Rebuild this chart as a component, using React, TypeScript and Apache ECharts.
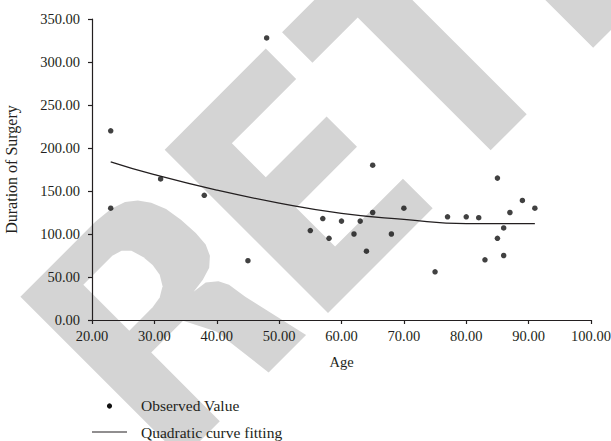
import React, { useEffect, useRef } from "react";
import * as echarts from "echarts";

// Observed values (Age, Duration of Surgery)
const ages = [23, 23, 31, 38, 45, 48, 55, 57, 58, 60, 62, 63, 64, 65, 65, 68, 70, 75, 77, 80, 82, 83, 85, 85, 86, 86, 87, 89, 91];
const durations = [220, 130, 164, 145, 69, 328, 104, 118, 95, 115, 100, 115, 80, 180, 125, 100, 130, 56, 120, 120, 119, 70, 165, 95, 107, 75, 125, 139, 130];

// Quadratic fitted curve
const fitAges = [23, 30, 40, 50, 60, 70, 80, 91];
const fitDurations = [184, 169, 151, 136, 124, 117, 112, 112];

const xMin = 20;
const xMax = 100;
const xStep = 10;
const yMin = 0;
const yMax = 350;
const yStep = 50;

const seriesNames = ["Observed Value", "Quadratic curve fitting"];
const xTitle = "Age";
const yTitle = "Duration of Surgery";

const INK = "#231f20";
const FONT = "Liberation Serif";
const WM = "#d4d4d4";

// watermark "RETRACTED" letters, drawn in a rotated letter frame (a along baseline, b up)
const O = [328, 313];
const K = Math.SQRT1_2;
const toScreen = (a: number, b: number, shift = 0) => [O[0] + (a + shift - b) * K, O[1] - (a + shift + b) * K];

const R_OUT = [
  [-206, 0], [-206, 229], [-100, 229], [-80, 227], [-65, 222], [-55, 214], [-47, 203], [-41, 188],
  [-38, 170], [-37, 150], [-38, 135], [-43, 124], [-52, 116], [-65, 112], [-80, 110],
  [-65, 108], [-55, 100], [-50, 90], [-47, 70], [-31, 0],
  [-84, 0], [-92, 66], [-108, 97], [-153, 97], [-153, 0],
];
const R_HOLE = [
  [-153, 128], [-153, 193], [-112, 193], [-102, 190], [-95, 183], [-91, 170], [-90, 158],
  [-92, 146], [-98, 136], [-108, 130], [-120, 128],
];
const E_SHAPE = [
  [0, 0], [0, 231], [143, 231], [143, 188], [52, 188], [52, 140], [138, 140], [138, 97],
  [52, 97], [52, 42], [148, 42], [148, 0],
];
const T_SHAPE = [
  [166, 231], [345, 231], [345, 188], [281, 188], [281, 0], [230, 0], [230, 188], [166, 188],
];

const poly = (pts: number[][], fill: string, shift = 0, z2 = 0) => ({
  type: "polygon",
  z: -5,
  z2,
  silent: true,
  shape: { points: pts.map(([a, b]) => toScreen(a, b, shift)) },
  style: { fill },
});

export default function App() {
  const ref = useRef<HTMLDivElement>(null);

  useEffect(() => {
    if (!ref.current) return;
    const chart = echarts.init(ref.current, undefined, { renderer: "svg" });

    const observed = ages.map((a, i) => [a, durations[i]]);
    const fitted = fitAges.map((a, i) => [a, fitDurations[i]]);

    const labelStyle = { fontFamily: FONT, fontSize: 14.5, color: INK };

    chart.setOption({
      animation: false,
      backgroundColor: "#ffffff",
      grid: { left: 92, top: 19, width: 499, height: 301, containLabel: false, outerBoundsMode: "none" },
      xAxis: {
        type: "value",
        min: xMin,
        max: xMax,
        interval: xStep,
        name: xTitle,
        nameLocation: "middle",
        nameGap: 34,
        nameTextStyle: { fontFamily: FONT, fontSize: 14.5, color: INK },
        axisLine: { show: true, lineStyle: { color: INK, width: 1.2 } },
        axisTick: { show: true, inside: false, length: 4, lineStyle: { color: INK, width: 1.2 } },
        axisLabel: { ...labelStyle, margin: 8, formatter: (v: number) => v.toFixed(2) },
        splitLine: { show: false },
      },
      yAxis: {
        type: "value",
        min: yMin,
        max: yMax,
        interval: yStep,
        name: yTitle,
        nameLocation: "middle",
        nameGap: 73,
        nameTextStyle: { fontFamily: FONT, fontSize: 16, color: INK },
        axisLine: { show: true, lineStyle: { color: INK, width: 1.2 } },
        axisTick: { show: true, inside: false, length: 4, lineStyle: { color: INK, width: 1.2 } },
        axisLabel: { ...labelStyle, margin: 12, formatter: (v: number) => v.toFixed(2) },
        splitLine: { show: false },
      },
      series: [
        {
          name: seriesNames[0],
          type: "scatter",
          data: observed,
          symbol: "circle",
          symbolSize: 5.5,
          itemStyle: { color: "#111111" },
          z: 3,
        },
        {
          name: seriesNames[1],
          type: "line",
          data: fitted,
          smooth: true,
          symbol: "none",
          lineStyle: { color: INK, width: 1.3 },
          z: 2,
        },
      ],
      graphic: [
        poly(R_OUT, WM),
        poly(R_HOLE, "#ffffff", 0, 1),
        poly(E_SHAPE, WM),
        poly(T_SHAPE, WM),
        poly(R_OUT, WM, 581),
        poly(R_HOLE, "#ffffff", 581, 1),
        {
          type: "circle",
          z: 5,
          shape: { cx: 109.5, cy: 406, r: 2.6 },
          style: { fill: "#111111" },
        },
        {
          type: "line",
          z: 5,
          shape: { x1: 92, y1: 432, x2: 127, y2: 432 },
          style: { stroke: INK, lineWidth: 1.2 },
        },
        {
          type: "text",
          z: 5,
          x: 141,
          y: 405,
          style: { text: seriesNames[0], fontFamily: FONT, fontSize: 15.5, fill: INK, textVerticalAlign: "middle", verticalAlign: "middle" },
        },
        {
          type: "text",
          z: 5,
          x: 141,
          y: 432,
          style: { text: seriesNames[1], fontFamily: FONT, fontSize: 15.5, fill: INK, textVerticalAlign: "middle", verticalAlign: "middle" },
        },
      ],
    });

    return () => chart.dispose();
  }, []);

  return <div ref={ref} style={{ width: 611, height: 441, position: "absolute", left: 0, top: 0 }} />;
}
